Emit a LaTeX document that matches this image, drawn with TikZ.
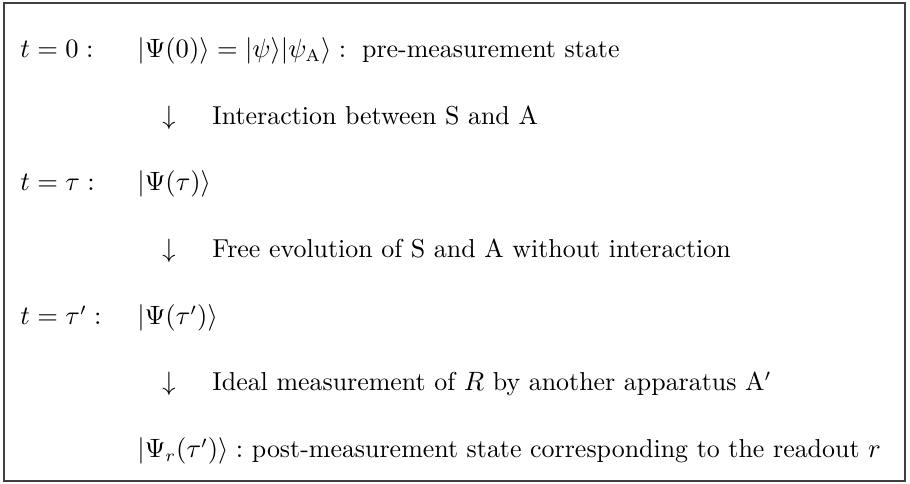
\documentclass[tikz,border=0pt]{standalone}
\usepackage{amsmath}
\tikzset{
  stage/.style={anchor=base west,inner sep=0pt,font=\fontsize{10.7pt}{13pt}\selectfont},
  steplabel/.style={anchor=base west,inner sep=0pt,font=\fontsize{10.7pt}{13pt}\selectfont}
}
\begin{document}
\begin{tikzpicture}[x=0.01451cm,y=-0.01451cm]
  \useasboundingbox (0,0) rectangle (910,484);
  \draw[line width=0.8pt,black!75] (4,3) rectangle (905,481);
  % times
  \node[stage] (t0) at (20,58) {$t=0:$};
  \node[stage] (t1) at (20,191) {$t=\tau:$};
  \node[stage] (t2) at (20,325) {$t=\tau':$};
  % states
  \node[stage] (s0) at (137,58) {$|\Psi(0)\rangle=|\psi\rangle|\psi_{\rm A}\rangle:\;$ pre-measurement state};
  \node[stage] (s1) at (137,191) {$|\Psi(\tau)\rangle$};
  \node[stage] (s2) at (137,325) {$|\Psi(\tau')\rangle$};
  \node[stage] (s3) at (137,458) {$|\Psi_r(\tau')\rangle:$ post-measurement state corresponding to the readout $r$};
  % steps between stages
  \node[steplabel] (a0) at (162,125) {$\downarrow$};
  \node[steplabel] (l0) at (212,125) {Interaction between S and A};
  \node[steplabel] (a1) at (162,258) {$\downarrow$};
  \node[steplabel] (l1) at (212,258) {Free evolution of S and A without interaction};
  \node[steplabel] (a2) at (162,391) {$\downarrow$};
  \node[steplabel] (l2) at (212,391) {Ideal measurement of $R$ by another apparatus A$'$};
\end{tikzpicture}
\end{document}
